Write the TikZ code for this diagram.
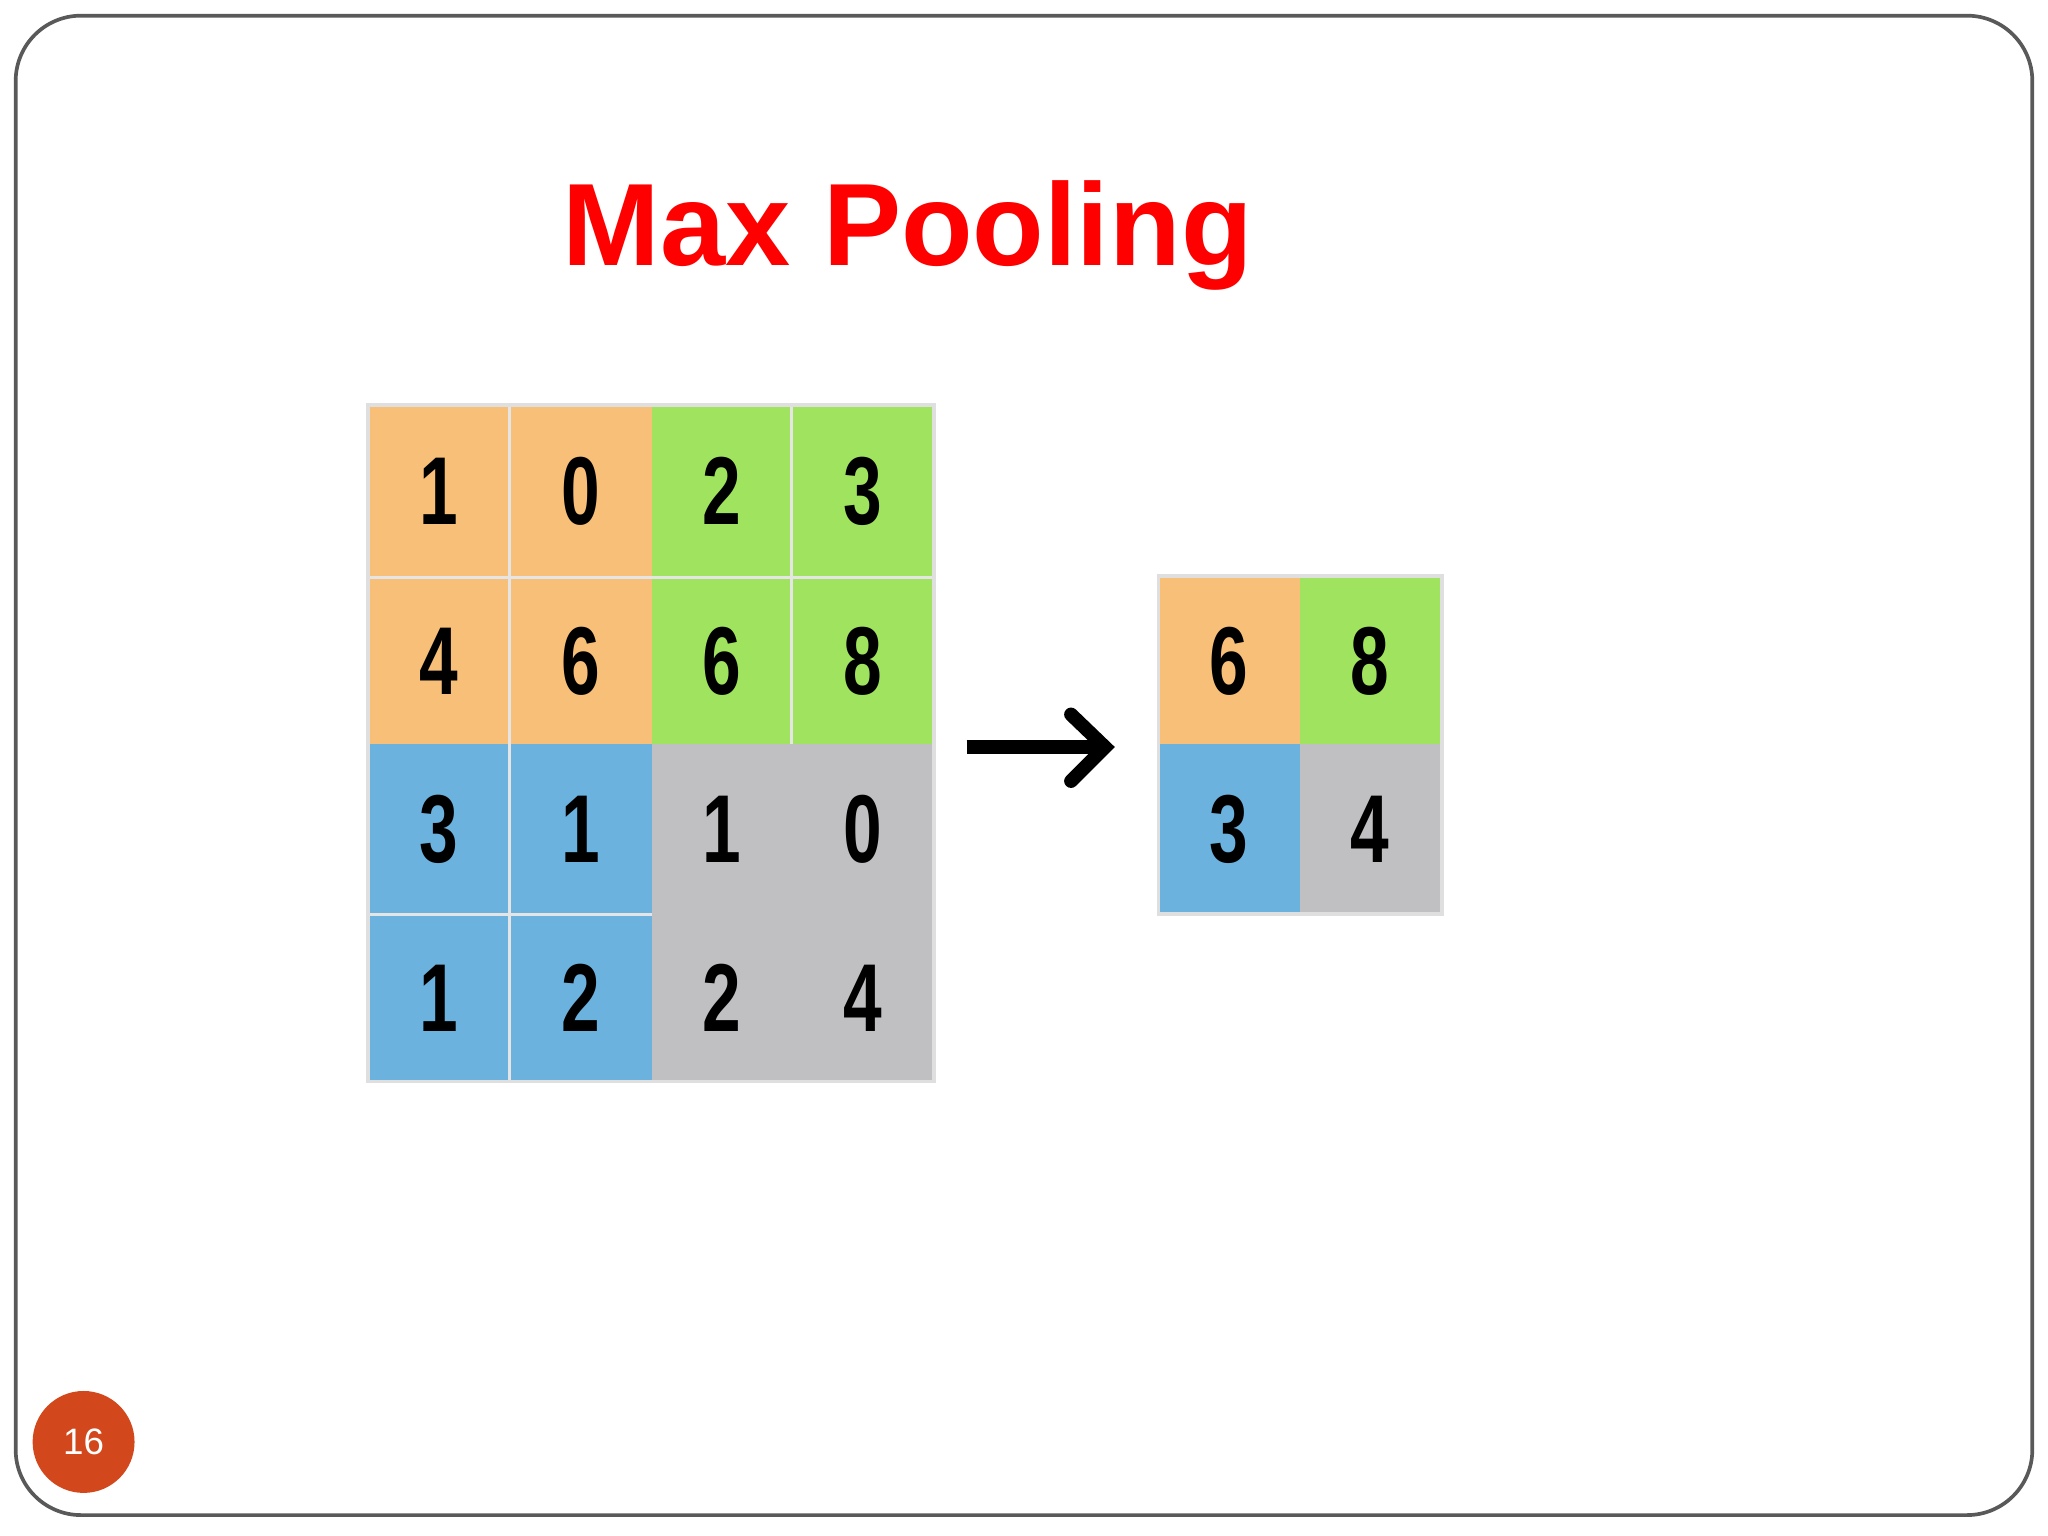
\documentclass[tikz,border=0pt]{standalone}
\usepackage{fontspec}
\setmainfont{Liberation Sans}
\begin{document}
\begin{tikzpicture}[x=0.01cm,y=-0.01cm,
  num/.style={font=\fontsize{21}{24}\selectfont\bfseries,xscale=0.72},
  ]
\definecolor{cor}{HTML}{F7BF78}\definecolor{cgr}{HTML}{A0E35E}
\definecolor{cbl}{HTML}{6BB2DE}\definecolor{cgy}{HTML}{C0C0C2}
\definecolor{pg}{HTML}{D2481C}
\useasboundingbox (0,0) rectangle (1568,1176);
\draw[gray!70!black,line width=0.8pt,rounded corners=0.5cm] (12,12) rectangle (1556,1160);
\node (title) at (695,180) {\fontsize{25.5}{30}\selectfont\bfseries\color{red}Max Pooling};
% input grid
\def\xs{{282,390,499,606,715}}
\def\ys{{310,442,570,700,828}}
\foreach \r/\c/\col/\v in {0/0/cor/1,0/1/cor/0,0/2/cgr/2,0/3/cgr/3,
 1/0/cor/4,1/1/cor/6,1/2/cgr/6,1/3/cgr/8,
 2/0/cbl/3,2/1/cbl/1,2/2/cgy/1,2/3/cgy/0,
 3/0/cbl/1,3/1/cbl/2,3/2/cgy/2,3/3/cgy/4}{
  \pgfmathsetmacro\xa{\xs[\c]}\pgfmathsetmacro\xb{\xs[\c+1]}
  \pgfmathsetmacro\ya{\ys[\r]}\pgfmathsetmacro\yb{\ys[\r+1]}
  \fill[\col] (\xa,\ya) rectangle (\xb,\yb);
  \node[num] (in\r\c) at ({(\xa+\xb)/2},{(\ya+\yb)/2}) {\v};
}
\foreach \x in {390,606}{\draw[gray!20,line width=0.6pt] (\x,310) -- (\x,570);}
\draw[gray!20,line width=0.6pt] (390,570) -- (390,828);
\draw[gray!20,line width=0.6pt] (282,442) -- (715,442);
\draw[gray!20,line width=0.6pt] (282,700) -- (499,700);
\draw[gray!25,line width=0.8pt] (282,310) rectangle (715,828);
% output grid
\fill[cor] (887,441) rectangle (995,570);
\fill[cgr] (995,441) rectangle (1104,570);
\fill[cbl] (887,570) rectangle (995,700);
\fill[cgy] (995,570) rectangle (1104,700);
\draw[gray!25,line width=0.8pt] (887,441) rectangle (1104,700);
\node[num] (o00) at (941,506) {6};
\node[num] (o01) at (1049,506) {8};
\node[num] (o10) at (941,635) {3};
\node[num] (o11) at (1049,635) {4};
% arrow
\coordinate (as) at (740,572);
\coordinate (ae) at (846,572);
\draw[line width=3pt] (as) -- (ae);
\draw[line width=3pt,line cap=round] (820,547) -- (ae) -- (820,598);
% page number
\node[circle,fill=pg,minimum size=0.78cm,inner sep=0,text=white,font=\fontsize{8}{10}\selectfont] (pn) at (64,1104) {16};
\end{tikzpicture}
\end{document}
